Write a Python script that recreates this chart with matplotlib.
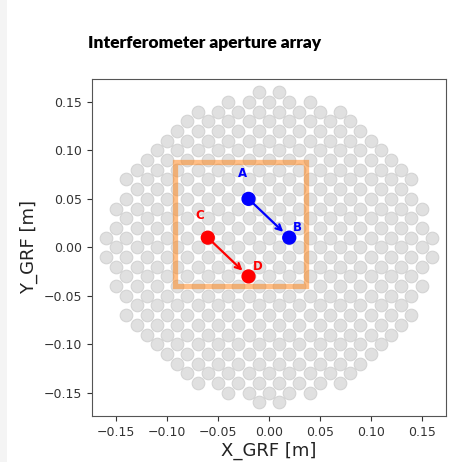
import numpy as np
import matplotlib
matplotlib.use("Agg")
import matplotlib.pyplot as plt
from matplotlib.patches import Rectangle

# aperture rows: y position of each row and the largest |x| used in that row
row_y = [0.16, 0.15, 0.14, 0.13, 0.12, 0.11, 0.10, 0.09, 0.08, 0.07, 0.06,
         0.05, 0.04, 0.03, 0.02, 0.01, 0.00, -0.01, -0.02, -0.03, -0.04, -0.05,
         -0.06, -0.07, -0.08, -0.09, -0.10, -0.11, -0.12, -0.13, -0.14, -0.15, -0.16]
row_halfwidth = [0.01, 0.04, 0.07, 0.08, 0.09, 0.10, 0.11, 0.12, 0.13, 0.14, 0.13,
                 0.14, 0.15, 0.14, 0.15, 0.16, 0.15, 0.16, 0.15, 0.14, 0.15, 0.14,
                 0.13, 0.14, 0.13, 0.12, 0.11, 0.10, 0.09, 0.08, 0.07, 0.04, 0.01]
pitch = 0.02

# selected baselines
labels = ["A", "B", "C", "D"]
pts_x = [-0.02, 0.02, -0.06, -0.02]
pts_y = [0.05, 0.01, 0.01, -0.03]
pt_colors = ["blue", "blue", "red", "red"]
label_offsets = [(-4, 18), (6, 7), (-6, 16), (7, 7)]
baselines = [(0, 1), (2, 3)]

# highlighted sub-aperture window
box_x0, box_y0, box_side = -0.0925, -0.040, 0.1285

ap_x, ap_y = [], []
for y, hw in zip(row_y, row_halfwidth):
    n = int(round(2 * hw / pitch)) + 1
    for k in range(n):
        ap_x.append(-hw + k * pitch)
        ap_y.append(y)

fig = plt.figure(figsize=(4.76, 4.62), dpi=100)
fig.patches.append(Rectangle((0, 0), 7 / 476, 1, transform=fig.transFigure,
                             facecolor="#f4f4f4", edgecolor="none", zorder=-5))
ax = fig.add_axes([0.1927, 0.0996, 0.7443, 0.7301])

ax.scatter(ap_x, ap_y, s=82, facecolor="#e0e0e0", edgecolor="#d4d4d4",
           linewidth=0.8, zorder=1)

ax.add_patch(Rectangle((box_x0, box_y0), box_side, box_side, fill=False,
                       edgecolor="C1", alpha=0.5, linewidth=3.8, zorder=2))

for i, j in baselines:
    ax.annotate("", xy=(pts_x[j], pts_y[j]), xytext=(pts_x[i], pts_y[i]),
                arrowprops=dict(arrowstyle="->", color=pt_colors[i], lw=1.6,
                                shrinkA=4, shrinkB=6), zorder=3)

ax.scatter(pts_x, pts_y, s=85, c=pt_colors, zorder=4)
for lab, x, y, c, off in zip(labels, pts_x, pts_y, pt_colors, label_offsets):
    ax.annotate(lab, (x, y), xytext=off, textcoords="offset points",
                color=c, fontsize=8.5, fontweight="bold", ha="center", va="center")

ax.set_xlim(-0.174, 0.174)
ax.set_ylim(-0.174, 0.174)
ticks = [-0.15, -0.10, -0.05, 0.00, 0.05, 0.10, 0.15]
ax.set_xticks(ticks)
ax.set_yticks(ticks)
ax.tick_params(labelsize=9, colors="#333333")
for sp in ax.spines.values():
    sp.set_color("#555555")
ax.set_xlabel("X_GRF [m]", fontsize=13, color="#222222", labelpad=2)
ax.set_ylabel("Y_GRF [m]", fontsize=13, color="#222222")

fig.text(88 / 476, 1 - 43 / 462, "Interferometer aperture array",
         fontsize=12.5, fontweight="heavy", family="Lato", va="center", ha="left")

fig.savefig("out.png", dpi=100)
